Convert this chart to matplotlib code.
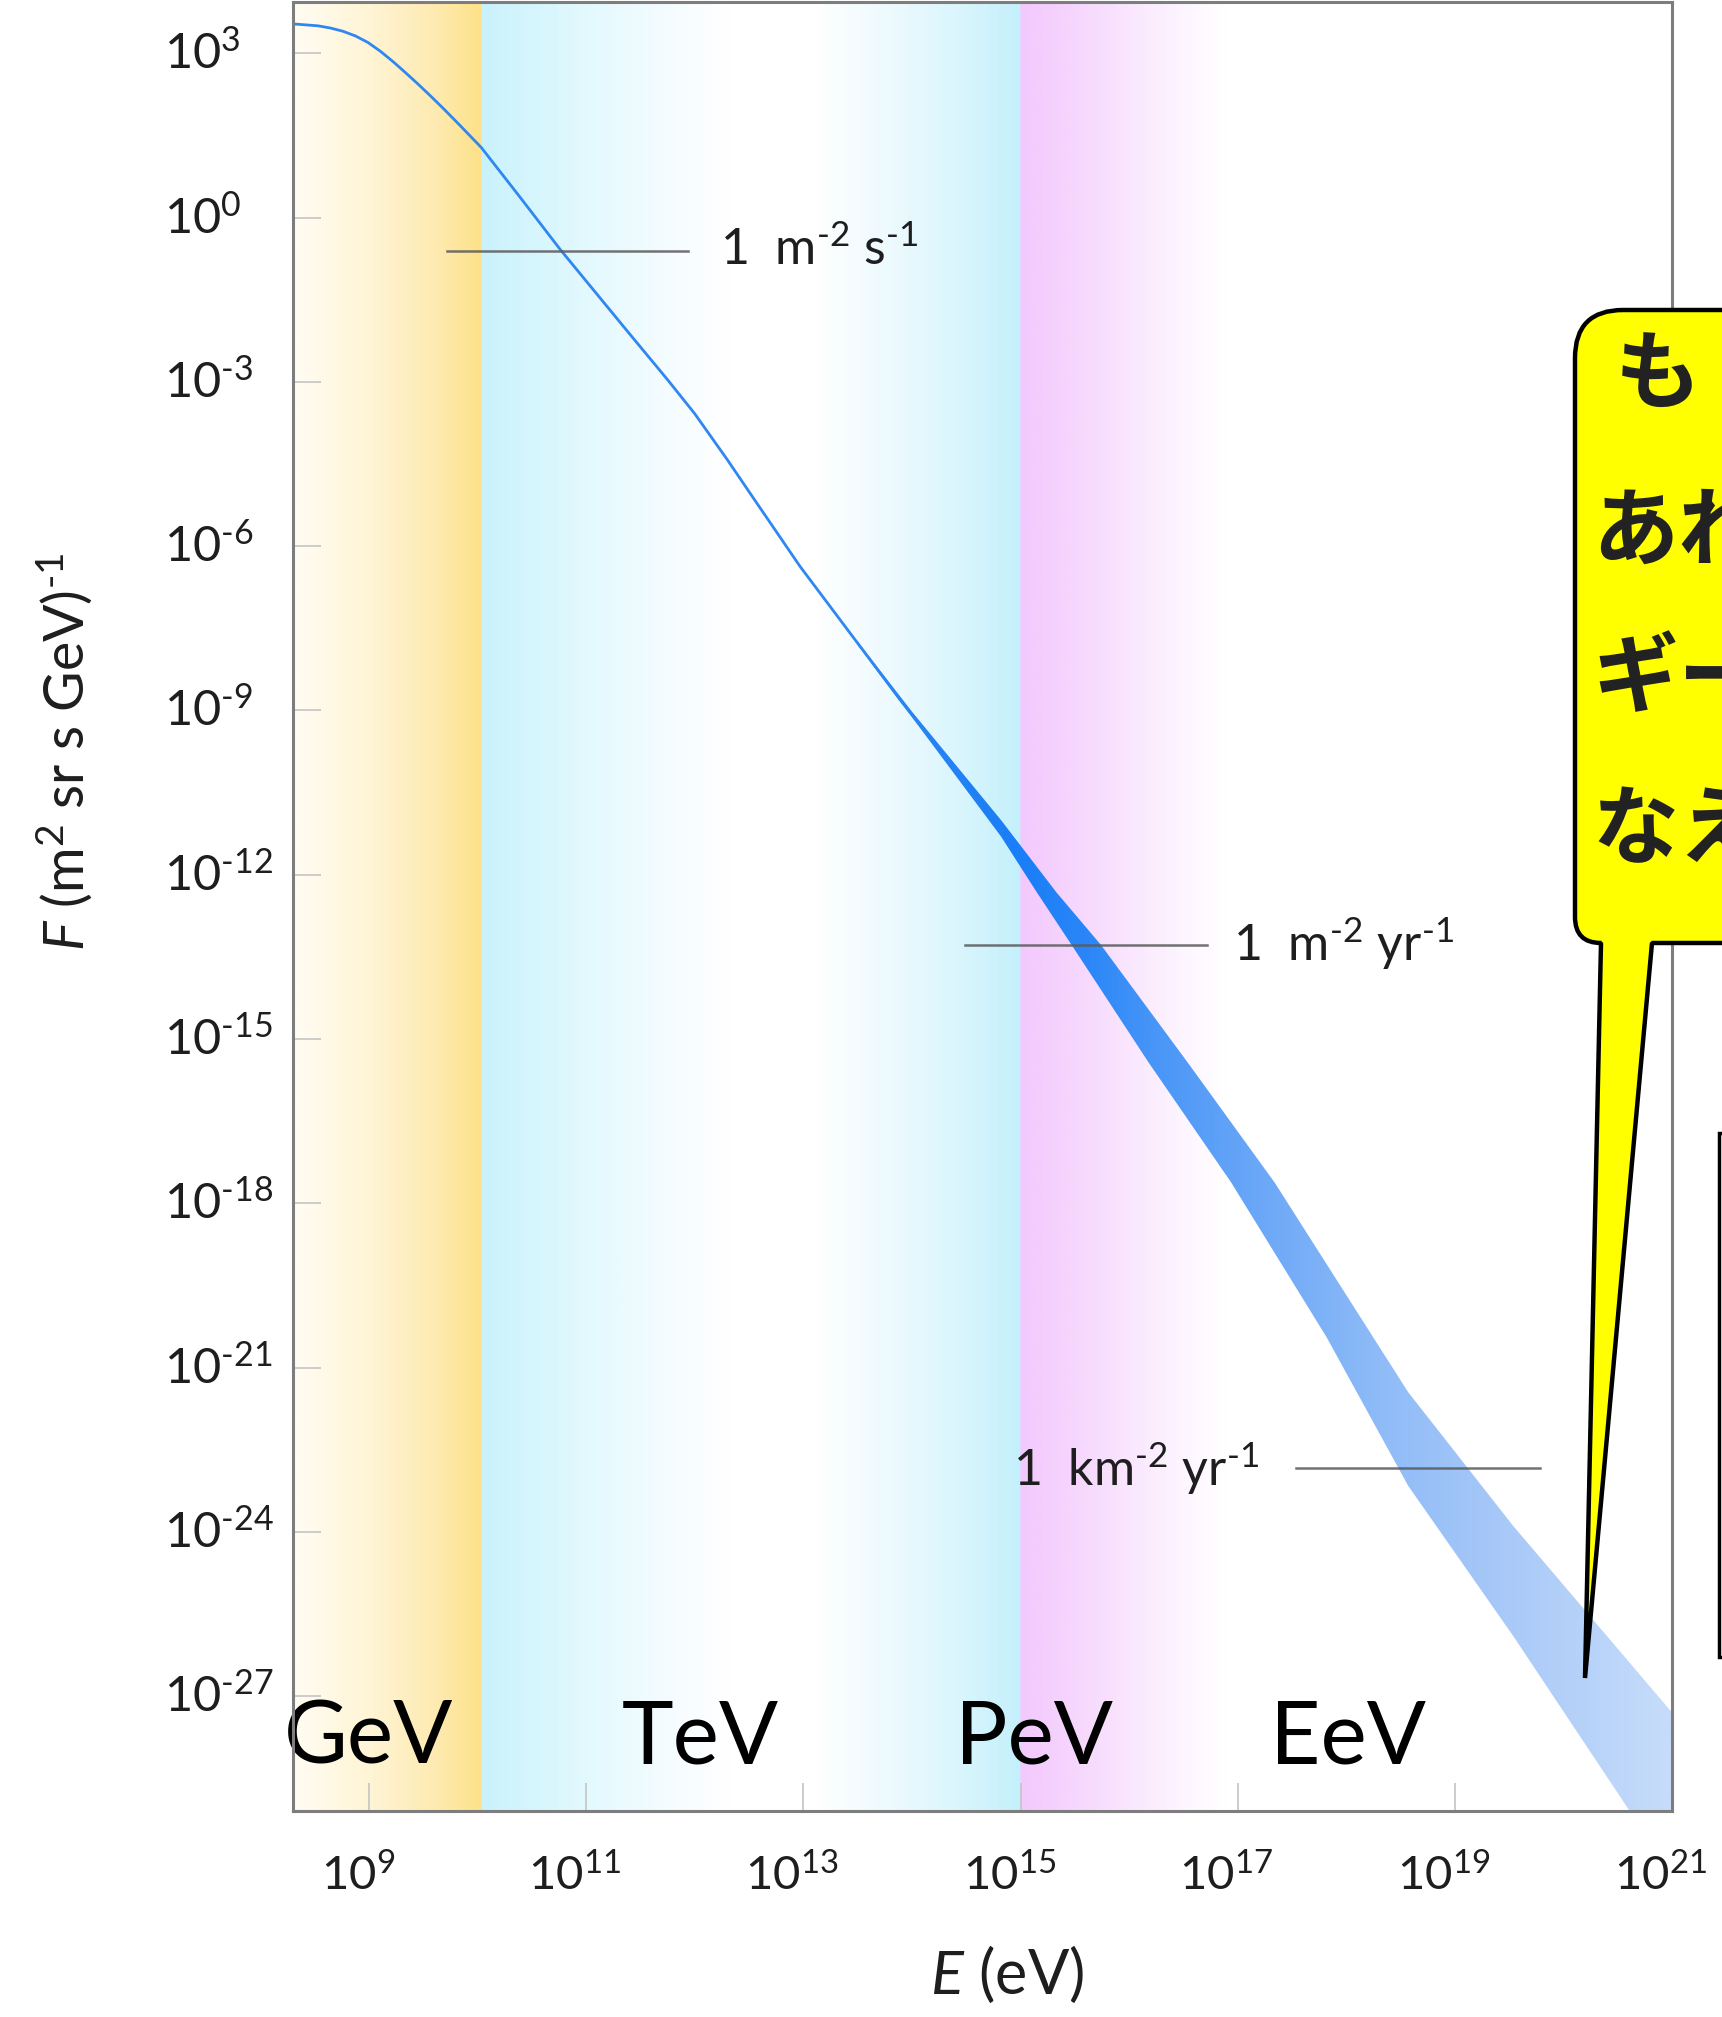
import numpy as np
import matplotlib
matplotlib.use('Agg')
import matplotlib.pyplot as plt
from matplotlib import font_manager
from matplotlib.colors import LinearSegmentedColormap
from matplotlib.patches import Polygon, PathPatch, Rectangle
from matplotlib.path import Path
from matplotlib.transforms import ScaledTranslation

# narrow face if we have one, the chart labels are tall and condensed
installed = {f.name for f in font_manager.fontManager.ttflist}
chart_font = 'Liberation Sans Narrow' if 'Liberation Sans Narrow' in installed else 'Lato'
plt.rcParams['font.family'] = [chart_font, 'DejaVu Sans']
plt.rcParams['mathtext.fontset'] = 'custom'
plt.rcParams['mathtext.rm'] = chart_font
plt.rcParams['mathtext.it'] = chart_font + ':italic'
plt.rcParams['mathtext.default'] = 'regular'

HY = '\u2010'  # short hyphen used as minus in the superscripts

# axis range (log10 of E in eV, log10 of F)
logE_lim = (8.3, 21.0)
logF_lim = (-29.1, 3.94)

x_tick_exp = [9, 11, 13, 15, 17, 19, 21]
y_tick_exp = [3, 0, -3, -6, -9, -12, -15, -18, -21, -24, -27]

# spectrum, thin part
line_logE = [8.3, 8.53, 8.644, 8.761, 8.875, 8.991, 9.105, 9.222, 9.336, 9.452, 9.566,
             9.682, 9.836, 10.035, 10.389, 10.757, 11.37, 11.75, 12.0, 12.3, 12.55,
             12.97, 13.89, 14.82, 15.25]
line_logF = [3.54, 3.505, 3.465, 3.405, 3.32, 3.20, 3.04, 2.85, 2.65, 2.44, 2.225,
             2.0, 1.69, 1.28, 0.38, -0.57, -2.05, -2.96, -3.58, -4.42, -5.15,
             -6.37, -8.80, -11.15, -12.32]

# spectrum, uncertainty band at high energy (upper and lower edge)
band_up_logE = [13.5, 14.0, 14.82, 15.33, 15.74, 16.54, 17.34, 18.57, 19.54, 21.0]
band_up_logF = [-7.74, -9.02, -11.00, -12.32, -13.28, -15.43, -17.62, -21.45, -23.90, -27.30]
band_lo_logE = [13.5, 14.0, 14.82, 15.15, 15.47, 16.18, 16.94, 17.82, 18.57, 19.54, 20.6, 21.0]
band_lo_logF = [-7.80, -9.12, -11.30, -12.32, -13.28, -15.43, -17.62, -20.45, -23.16, -25.91, -29.07, -30.2]

# integral flux markers
ref_labels = ['1  m$^{%s2}$ s$^{%s1}$' % (HY, HY),
              '1  m$^{%s2}$ yr$^{%s1}$' % (HY, HY),
              '1  km$^{%s2}$ yr$^{%s1}$' % (HY, HY)]
ref_logF = [-0.60, -13.28, -22.83]
ref_logE_from = [9.72, 14.49, 17.54]
ref_logE_to = [11.94, 16.72, 19.78]
ref_text_logE = [12.235, 16.954, 14.93]
ref_text_logF = [-0.86, -13.58, -23.17]

# energy regions
region_labels = ['GeV', 'TeV', 'PeV', 'EeV']
region_logE = [8.217, 11.332, 14.401, 17.295]
region_logF = -28.23

callout_lines = ['も', 'あれ', 'ギー', 'なえ']


def frac(v):
    return (v - logE_lim[0]) / (logE_lim[1] - logE_lim[0])


def sup_label(e):
    s = str(abs(e)) if e >= 0 else HY + str(abs(e))
    return '$10^{%s}$' % s


fig = plt.figure(figsize=(17.22, 20.17), dpi=100)
ax = fig.add_axes([293 / 1722, 1 - 1811 / 2017, 1379 / 1722, 1809 / 2017])
ax.set_xscale('log')
ax.set_yscale('log')
ax.set_xlim(10 ** logE_lim[0], 10 ** logE_lim[1])
ax.set_ylim(10 ** logF_lim[0], 10 ** logF_lim[1])
ax.set_autoscale_on(False)

# background colour bands
bg_stops = [(8.3, '#fffcf2'), (9.0, '#fff4d4'), (9.6, '#feeab0'), (9.999, '#fde28a'),
            (10.0, '#c9f2fc'), (11.0, '#e3f9fe'), (11.7, '#f4fcff'), (12.3, '#ffffff'),
            (13.1, '#ffffff'), (13.8, '#edfafe'), (14.4, '#dbf6fd'), (14.999, '#c4f0fb'),
            (15.0, '#f3c8fd'), (15.5, '#f6d6fd'), (16.0, '#fae6fe'), (16.5, '#fdf5ff'),
            (16.9, '#ffffff'), (21.0, '#ffffff')]
bg_cmap = LinearSegmentedColormap.from_list('bg', [(frac(v), c) for v, c in bg_stops])
grad = np.linspace(0, 1, 2400).reshape(1, -1)
ax.imshow(grad, cmap=bg_cmap, aspect='auto', extent=(0, 1, 0, 1),
          transform=ax.transAxes, interpolation='bilinear', zorder=0)

# spectrum line
ax.plot(10 ** np.array(line_logE), 10 ** np.array(line_logF),
        color='#2f87f1', lw=2.0, zorder=2, solid_joinstyle='round')

# band, coloured by a gradient clipped to its outline
band_stops = [(8.3, '#2f87f2'), (13.5, '#2f87f2'), (15.0, '#1a7ef7'), (15.6, '#2a86f7'),
              (16.3, '#4a97f7'), (17.3, '#6ea9f7'), (18.3, '#8ebbf7'), (19.5, '#a9c9f8'),
              (21.0, '#c6dcfa')]
band_cmap = LinearSegmentedColormap.from_list('band', [(frac(v), c) for v, c in band_stops])
poly_x = 10 ** np.concatenate([band_up_logE, band_lo_logE[::-1]])
poly_y = 10 ** np.concatenate([band_up_logF, band_lo_logF[::-1]])
band = Polygon(np.column_stack([poly_x, poly_y]), closed=True,
               facecolor='none', edgecolor='none', transform=ax.transData)
ax.add_patch(band)
band_img = ax.imshow(grad, cmap=band_cmap, aspect='auto', extent=(0, 1, 0, 1),
                     transform=ax.transAxes, interpolation='bilinear', zorder=3)
band_img.set_clip_path(band)

# flux markers
for lab, f, e0, e1, te, tf in zip(ref_labels, ref_logF, ref_logE_from, ref_logE_to,
                                  ref_text_logE, ref_text_logF):
    ax.plot([10 ** e0, 10 ** e1], [10 ** f, 10 ** f], color='#5a5a5a', lw=1.8,
            alpha=0.85, zorder=4)
    ax.text(10 ** te, 10 ** tf, lab, ha='left', va='baseline', fontsize=36,
            color='#1e1e1e', zorder=6)

for lab, e in zip(region_labels, region_logE):
    ax.text(10 ** e, 10 ** region_logF, lab, ha='left', va='baseline', fontsize=63,
            family=['Lato', 'DejaVu Sans'], color='black', zorder=7, clip_on=False)

# ticks
ax.set_xticks([10.0 ** e for e in x_tick_exp])
ax.set_xticklabels([sup_label(e) for e in x_tick_exp])
ax.set_yticks([10.0 ** e for e in y_tick_exp])
ax.set_yticklabels([sup_label(e) for e in y_tick_exp])
ax.minorticks_off()
ax.tick_params(direction='in', length=20, width=1.2, color='#c4c4c4',
               labelcolor='#1e1e1e')
ax.tick_params(axis='x', pad=30, labelsize=34)
ax.tick_params(axis='y', pad=93, labelsize=35)
for lbl in ax.get_yticklabels():
    lbl.set_horizontalalignment('left')
    lbl.set_verticalalignment('center')
# x labels sit a little left of their ticks in the original
shift = ScaledTranslation(-8 / 72, 0, fig.dpi_scale_trans)
for lbl in ax.get_xticklabels():
    lbl.set_transform(lbl.get_transform() + shift)

for s in ax.spines.values():
    s.set_color('#7d7d7d')
    s.set_linewidth(2.2)
    s.set_zorder(8)

fig.text(1007 / 1722, 1 - 1974 / 2017, r'$\it{E}$ (eV)', ha='center', va='center',
         fontsize=44, color='#1e1e1e')
fig.text(64 / 1722, 1 - 752 / 2017, r'$\it{F}$ (m$^2$ sr s GeV)$^{%s1}$' % HY, rotation=90,
         ha='center', va='center', fontsize=40, color='#1e1e1e')

# speech bubble and box pasted over the right edge, in pixel coordinates
ov = fig.add_axes([0, 0, 1, 1], zorder=10)
ov.set_xlim(0, 1722)
ov.set_ylim(2017, 0)
ov.axis('off')

L, T, B, R = 1575, 310, 943, 1900
r1, r2 = 48, 26
verts = [(L, T + r1), (L, B - r2), (L, B), (L + r2, B), (1585, 1678), (1652, B),
         (R, B), (R, T), (L + r1, T), (L, T), (L, T + r1), (L, T + r1)]
codes = [Path.MOVETO, Path.LINETO, Path.CURVE3, Path.CURVE3, Path.LINETO, Path.LINETO,
         Path.LINETO, Path.LINETO, Path.LINETO, Path.CURVE3, Path.CURVE3, Path.CLOSEPOLY]
ov.add_patch(PathPatch(Path(verts, codes), facecolor='#ffff00', edgecolor='black',
                       lw=3.2, joinstyle='bevel'))
ov.add_patch(Rectangle((1719, 1133), 300, 524, facecolor='white', edgecolor='black', lw=2.5))

for s, x, y in zip(callout_lines, [1615, 1592, 1592, 1592], [377, 533, 680, 832]):
    ov.text(x, y, s, fontsize=62, fontweight='bold', family=['Noto Sans CJK JP'],
            color='#222222', ha='left', va='center')

fig.savefig('out.png', dpi=100)
